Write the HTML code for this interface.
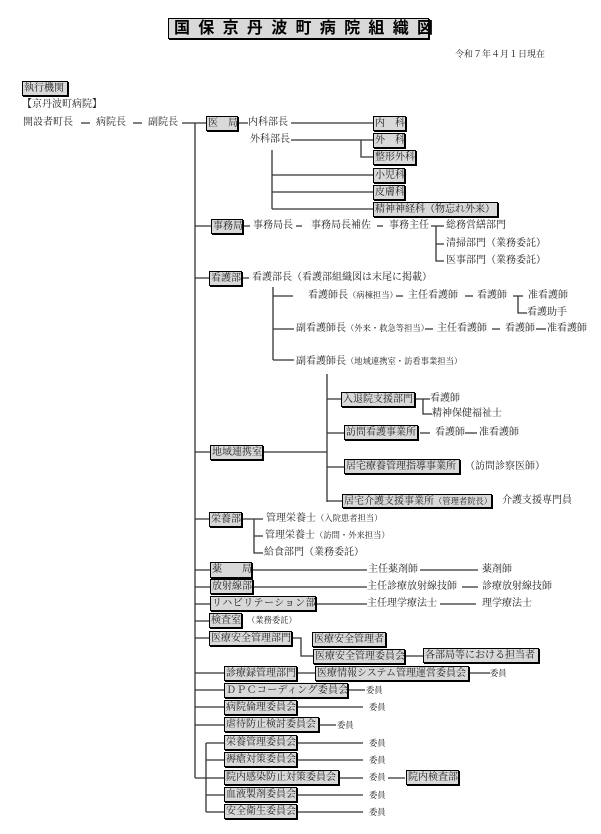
<!DOCTYPE html>
<html><head><meta charset="utf-8">
<style>
html,body{margin:0;padding:0;background:#fff;}
body{width:601px;height:834px;position:relative;overflow:hidden;font-family:"Liberation Serif","Noto Serif CJK SC","Noto Sans CJK JP",serif;color:#222;}
.t{position:absolute;font-size:10px;line-height:14px;white-space:nowrap;}
.s{font-size:8.3px;}
.b{position:absolute;background:#d9d9d9;border:1px solid #000;box-shadow:1px 1px 0 #000;font-size:10px;line-height:13px;white-space:nowrap;box-sizing:border-box;padding-left:1px;overflow:visible;}
svg{position:absolute;left:0;top:0;}
</style></head><body>
<svg width="601" height="834" fill="none" stroke="#333" stroke-width="1.3">
<path d="M81 123H90M133 123H142M182 123H206M195 123V778"/>
<path d="M237 123H248M291 123H373M291 140H373M361 140V157H373M272 150V209M272 175H373M272 192H373M272 209H373"/>
<path d="M195 226H211M243 226H250M296 226H302M377 226H383M431 226H444M436 226V261H444M436 244H444"/>
<path d="M195 278H209M243 278H249M273 287V360M273 296H293M273 329H294M273 360H294"/>
<path d="M396 296H403M465 296H473M513 296H523M518 296V313H527M425 329H433M492 329H500M536 329H546"/>
<path d="M195 452H210M262 452H327M327 374V502M327 399H341M327 433H344M327 467H344M327 501H342M414 399H430M423 399V414H432M420 433H430M465 433H477"/>
<path d="M195 519H209M241 519H263M254 519V553H263M254 536H263"/>
<path d="M195 570H210M252 570H367M420 570H478M195 587H210M253 587H367M462 587H478M195 604H210M316 604H367M440 604H476M195 621H209"/>
<path d="M195 638H209M292 638H301V656H313M405 656H423"/>
<path d="M195 673H224M297 673H315M469 673H490M195 690H224M348 690H365M195 707H224M297 707H363M195 725H224M319 725H336M195 778H224"/>
<path d="M206 743V812M206 743H224M206 760H224M206 795H224M206 812H224M297 743H363M297 760H363M339 778H363M388 778H405M297 795H363M297 812H363"/>
</svg>

<div class="b" style="left:168px;top:18px;width:261px;height:21px;font-size:16px;line-height:19px;font-weight:bold;letter-spacing:8.3px;padding-left:5px;font-family:'Liberation Sans','Noto Sans CJK JP',sans-serif;color:#000">国保京丹波町病院組織図</div>
<div class="t" style="left:455px;top:47px;font-size:9px">令和７年４月１日現在</div>

<div class="b" style="left:22px;top:81px;width:46px;height:15px">執行機関</div>
<div class="t" style="left:22px;top:98px">【京丹波町病院】</div>
<div class="t" style="left:23px;top:116px">開設者町長</div>
<div class="t" style="left:96px;top:116px">病院長</div>
<div class="t" style="left:148px;top:116px">副院長</div>

<div class="b" style="left:206px;top:116px;width:32px;height:15px">医　局</div>
<div class="t" style="left:248px;top:116px">内科部長</div>
<div class="t" style="left:250px;top:133px">外科部長</div>
<div class="b" style="left:373px;top:116px;width:33px;height:15px">内　科</div>
<div class="b" style="left:373px;top:133px;width:32px;height:15px">外　科</div>
<div class="b" style="left:373px;top:150px;width:43px;height:15px">整形外科</div>
<div class="b" style="left:373px;top:168px;width:32px;height:15px">小児科</div>
<div class="b" style="left:373px;top:185px;width:32px;height:15px">皮膚科</div>
<div class="b" style="left:373px;top:202px;width:125px;height:15px">精神神経科（物忘れ外来）</div>

<div class="b" style="left:211px;top:219px;width:32px;height:15px">事務局</div>
<div class="t" style="left:253px;top:219px">事務局長</div>
<div class="t" style="left:311px;top:219px">事務局長補佐</div>
<div class="t" style="left:389px;top:219px">事務主任</div>
<div class="t" style="left:446px;top:219px">総務営繕部門</div>
<div class="t" style="left:446px;top:237px">清掃部門（業務委託）</div>
<div class="t" style="left:446px;top:254px">医事部門（業務委託）</div>

<div class="b" style="left:209px;top:271px;width:33px;height:15px">看護部</div>
<div class="t" style="left:252px;top:271px">看護部長（看護部組織図は末尾に掲載）</div>
<div class="t" style="left:308px;top:289px">看護師長<span class="s">（病棟担当）</span></div>
<div class="t" style="left:408px;top:289px">主任看護師</div>
<div class="t" style="left:477px;top:289px">看護師</div>
<div class="t" style="left:528px;top:289px">准看護師</div>
<div class="t" style="left:527px;top:306px">看護助手</div>
<div class="t" style="left:296px;top:322px">副看護師長<span class="s">（外来・救急等担当）</span></div>
<div class="t" style="left:437px;top:322px">主任看護師</div>
<div class="t" style="left:505px;top:322px">看護師</div>
<div class="t" style="left:547px;top:322px">准看護師</div>
<div class="t" style="left:296px;top:355px">副看護師長<span class="s">（地域連携室・訪看事業担当）</span></div>

<div class="b" style="left:210px;top:445px;width:53px;height:15px">地域連携室</div>
<div class="b" style="left:341px;top:392px;width:74px;height:15px">入退院支援部門</div>
<div class="t" style="left:430px;top:392px">看護師</div>
<div class="t" style="left:432px;top:407px">精神保健福祉士</div>
<div class="b" style="left:344px;top:425px;width:74px;height:15px">訪問看護事業所</div>
<div class="t" style="left:435px;top:426px">看護師</div>
<div class="t" style="left:479px;top:426px">准看護師</div>
<div class="b" style="left:344px;top:459px;width:116px;height:15px">居宅療養管理指導事業所</div>
<div class="t" style="left:465px;top:460px">（訪問診察医師）</div>
<div class="b" style="left:342px;top:494px;width:150px;height:14px">居宅介護支援事業所<span class="s">（管理者院長）</span></div>
<div class="t" style="left:502px;top:494px">介護支援専門員</div>

<div class="b" style="left:209px;top:512px;width:33px;height:15px">栄養部</div>
<div class="t" style="left:266px;top:512px">管理栄養士<span class="s">（入院患者担当）</span></div>
<div class="t" style="left:265px;top:529px">管理栄養士<span class="s">（訪問・外来担当）</span></div>
<div class="t" style="left:264px;top:546px">給食部門（業務委託）</div>

<div class="b" style="left:210px;top:562px;width:42px;height:16px">薬　　局</div>
<div class="t" style="left:368px;top:563px">主任薬剤師</div>
<div class="t" style="left:482px;top:563px">薬剤師</div>
<div class="b" style="left:210px;top:579px;width:43px;height:15px">放射線部</div>
<div class="t" style="left:367px;top:580px">主任診療放射線技師</div>
<div class="t" style="left:482px;top:580px">診療放射線技師</div>
<div class="b" style="left:210px;top:596px;width:106px;height:15px;letter-spacing:0.5px">リハビリテーション部</div>
<div class="t" style="left:367px;top:597px">主任理学療法士</div>
<div class="t" style="left:482px;top:597px">理学療法士</div>
<div class="b" style="left:209px;top:613px;width:33px;height:15px">検査室</div>
<div class="t s" style="left:247px;top:614px">（業務委託）</div>

<div class="b" style="left:209px;top:631px;width:83px;height:15px">医療安全管理部門</div>
<div class="b" style="left:312px;top:632px;width:74px;height:15px">医療安全管理者</div>
<div class="b" style="left:313px;top:649px;width:92px;height:15px">医療安全管理委員会</div>
<div class="b" style="left:423px;top:648px;width:116px;height:15px">各部局等における担当者</div>

<div class="b" style="left:224px;top:666px;width:73px;height:15px">診療録管理部門</div>
<div class="b" style="left:315px;top:666px;width:154px;height:15px">医療情報システム管理運営委員会</div>
<div class="t s" style="left:490px;top:667px">委員</div>
<div class="b" style="left:224px;top:683px;width:124px;height:15px;letter-spacing:0.3px">ＤＰＣコーディング委員会</div>
<div class="t s" style="left:366px;top:684px">委員</div>
<div class="b" style="left:224px;top:700px;width:73px;height:15px">病院倫理委員会</div>
<div class="t s" style="left:369px;top:701px">委員</div>
<div class="b" style="left:224px;top:717px;width:95px;height:15px">虐待防止検討委員会</div>
<div class="t s" style="left:337px;top:719px">委員</div>
<div class="b" style="left:224px;top:735px;width:73px;height:15px">栄養管理委員会</div>
<div class="t s" style="left:369px;top:737px">委員</div>
<div class="b" style="left:224px;top:752px;width:73px;height:15px">褥瘡対策委員会</div>
<div class="t s" style="left:369px;top:754px">委員</div>
<div class="b" style="left:224px;top:770px;width:115px;height:15px">院内感染防止対策委員会</div>
<div class="t s" style="left:369px;top:771px">委員</div>
<div class="b" style="left:406px;top:770px;width:53px;height:15px">院内検査部</div>
<div class="b" style="left:224px;top:787px;width:73px;height:15px">血液製剤委員会</div>
<div class="t s" style="left:369px;top:789px">委員</div>
<div class="b" style="left:224px;top:804px;width:73px;height:15px">安全衛生委員会</div>
<div class="t s" style="left:369px;top:806px">委員</div>
</body></html>
